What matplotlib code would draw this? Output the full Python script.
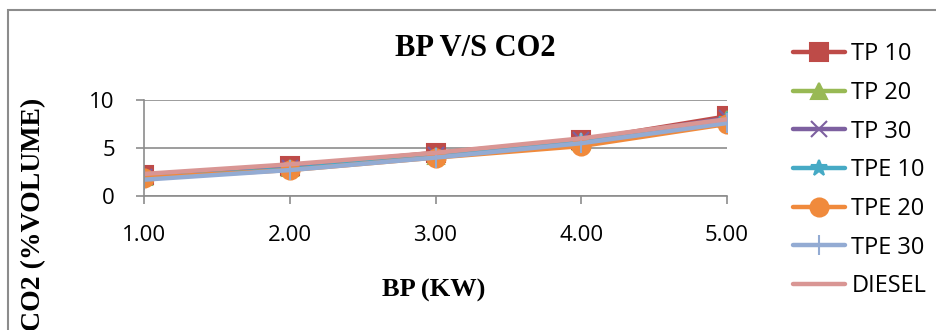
import matplotlib
matplotlib.use("Agg")
from matplotlib import pyplot as plt
from matplotlib.patches import Rectangle

# data
bp = [1.00, 2.00, 3.00, 4.00, 5.00]
bp_labels = ["1.00", "2.00", "3.00", "4.00", "5.00"]

series_names = ["TP 10", "TP 20", "TP 30", "TPE 10", "TPE 20", "TPE 30", "DIESEL"]
tp10 = [2.2, 3.1, 4.5, 5.8, 8.3]
tp20 = [2.0, 2.9, 4.2, 5.6, 8.0]
tp30 = [2.0, 2.9, 4.3, 5.8, 8.1]
tpe10 = [1.9, 2.8, 4.2, 5.7, 7.9]
tpe20 = [1.9, 2.7, 4.0, 5.2, 7.5]
tpe30 = [1.7, 2.7, 4.0, 5.5, 7.6]
diesel = [2.3, 3.3, 4.5, 6.0, 8.0]

colors = ["#BE4B48", "#98B954", "#7D60A0", "#46AAC5", "#F08A3C", "#93ABD3", "#D99694"]
markers = ["s", "^", "x", "*", "o", "+", None]
msizes = [13, 12, 11, 12, 13, 14, 0]

fig = plt.figure(figsize=(9.36, 3.3), dpi=100)
fig.patches.append(Rectangle((8 / 936, -0.1), 1.0, 1 - 10 / 330 + 0.1,
                             transform=fig.transFigure, fill=False,
                             edgecolor="#8C8C8C", linewidth=1.5))

ax = fig.add_axes([144 / 936, 1 - 196 / 330, (727 - 144) / 936, 96 / 330])

all_series = [tp10, tp20, tp30, tpe10, tpe20, tpe30, diesel]
for name, ys, c, m, ms in zip(series_names, all_series, colors, markers, msizes):
    ax.plot(bp, ys, color=c, linewidth=3.2, marker=m, markersize=ms,
            markeredgewidth=1.5, label=name, solid_capstyle="round")

ax.set_xlim(1, 5)
ax.set_ylim(0, 10)
ax.set_yticks([0, 5, 10])
ax.set_xticks(bp)
ax.set_xticklabels(bp_labels)
ax.grid(axis="y", color="#8C8C8C", linewidth=1.2)
ax.set_axisbelow(True)
for s in ["top", "right"]:
    ax.spines[s].set_visible(False)
for s in ["left", "bottom"]:
    ax.spines[s].set_color("#8C8C8C")
    ax.spines[s].set_linewidth(1.2)
ax.tick_params(axis="both", colors="#8C8C8C", length=6, width=1.2,
               labelcolor="black", labelsize=16)
ax.tick_params(axis="x", pad=15)
ax.tick_params(axis="y", pad=15)
for lbl in ax.get_xticklabels() + ax.get_yticklabels():
    lbl.set_family("Open Sans")

fig.text(475 / 936, 1 - 48 / 330, "BP V/S CO2", ha="center", va="center",
         family="Liberation Serif", fontweight="bold", fontsize=22)
fig.text(434 / 936, 1 - 290 / 330, "BP (KW)", ha="center", va="center",
         family="Liberation Serif", fontweight="bold", fontsize=19)
fig.text(34 / 936, 1 - 98 / 330, "CO2 (%VOLUME)", ha="center", va="top",
         rotation=90, family="Liberation Serif", fontweight="bold", fontsize=20)

fig.legend(loc="upper left", bbox_to_anchor=(784 / 936, 1 - 33 / 330),
           frameon=False, prop={"family": "Open Sans", "size": 17},
           handlelength=2.2, handletextpad=0.25, labelspacing=0.62,
           borderaxespad=0)

fig.savefig("out.png", dpi=100)
